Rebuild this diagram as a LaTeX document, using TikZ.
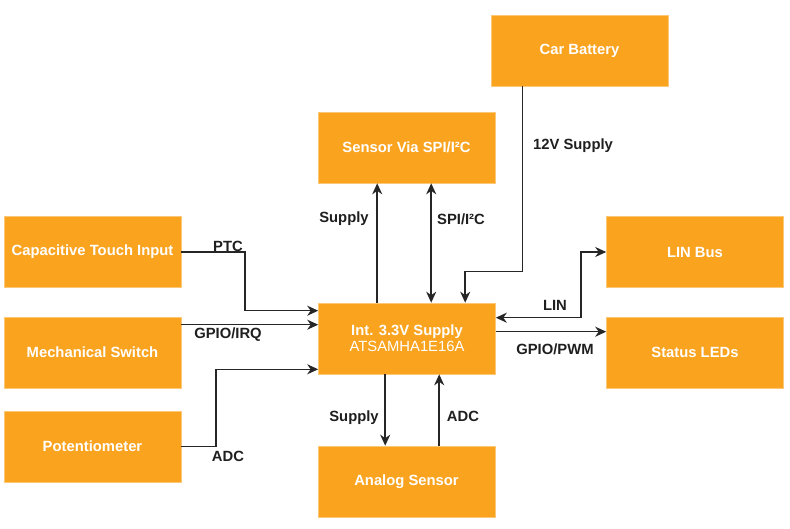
\documentclass[tikz,border=0pt]{standalone}
\usepackage{fontspec}
\setmainfont{Liberation Sans}
\usetikzlibrary{arrows.meta,calc}
\definecolor{boxfill}{HTML}{F9A31F}
\definecolor{boxline}{HTML}{FCC877}
\definecolor{wire}{HTML}{262626}
\definecolor{lbl}{HTML}{1F1F1F}
\begin{document}
\begin{tikzpicture}[x=1pt,y=-1pt,
  blk/.style={rectangle,draw=boxline,line width=0.6pt,fill=boxfill,text=white,
    minimum width=177pt,minimum height=71pt,inner sep=0pt,align=center,
    font=\fontsize{14.8}{17}\selectfont\bfseries},
  arr/.style={draw=wire,line width=1.5pt,-{Stealth[length=11pt,width=10pt,inset=3.5pt]}},
  arrtwo/.style={draw=wire,line width=1.5pt,{Stealth[length=11pt,width=10pt,inset=3.5pt]}-{Stealth[length=11pt,width=10pt,inset=3.5pt]}},
  lab/.style={text=lbl,inner sep=0pt,font=\fontsize{14.8}{17}\selectfont\bfseries}]
\useasboundingbox (0,0) rectangle (790,529);
\fill[white] (0,0) rectangle (790,529);
% boxes
\node[blk] (bat)  at (579.5,50.5) {Car Battery};
\node[blk] (sens) at (406.5,147.5) {Sensor Via SPI/I²C};
\node[blk] (cap)  at (92.5,252) {Capacitive Touch Input};
\node[blk] (mech) at (92.5,352.5) {Mechanical Switch};
\node[blk] (pot)  at (92.5,446.5) {Potentiometer};
\node[blk] (main) at (407,338.5) {Int. 3.3V Supply\\[-1pt]{\mdseries ATSAMHA1E16A}};
\node[blk] (ana)  at (406.5,481.5) {Analog Sensor};
\node[blk] (lin)  at (695,252) {LIN Bus};
\node[blk] (led)  at (695,352.5) {Status LEDs};
% connectors
\draw[arr] (cap.east) -| ($(main.north west)+(-73,8)$) -- ($(main.north west)+(0,8)$);
\draw[arr] ($(mech.north east)+(0,8)$) -- ($(main.north west)+(0,22)$);
\draw[arr] (pot.east) -| ($(main.south west)+(-102,-5)$) -- ($(main.south west)+(0,-5)$);
\coordinate (s1) at ($(main.north west)+(59,0)$);
\draw[arr] (s1) -- (s1 |- sens.south);
\coordinate (s2) at ($(main.north west)+(113,0)$);
\draw[arrtwo] (s2) -- (s2 |- sens.south);
\draw[arr] ($(bat.south west)+(32,0)$) |- ($(main.north west)+(147,-31)$) -- ($(main.north west)+(147,0)$);
\draw[arrtwo] ($(main.north east)+(0,15)$) -| ($(lin.west)+(-25,0)$) -- (lin.west);
\draw[arr] ($(main.north east)+(0,29)$) -- ($(led.north west)+(0,15)$);
\coordinate (s3) at ($(main.south west)+(67,0)$);
\draw[arr] (s3) -- (s3 |- ana.north);
\coordinate (s4) at ($(main.south west)+(121,0)$);
\draw[arr] (s4 |- ana.north) -- (s4);
% labels
\node[lab] (l1) at (228,246) {PTC};
\node[lab] (l2) at (228,335) {GPIO/IRQ};
\node[lab] (l3) at (228,456) {ADC};
\node[lab] (l4) at (344,219) {Supply};
\node[lab] (l5) at (461,219) {SPI/I²C};
\node[lab] (l6) at (573,146) {12V Supply};
\node[lab] (l7) at (555,305) {LIN};
\node[lab] (l8) at (555,349) {GPIO/PWM};
\node[lab] (l9) at (354,418) {Supply};
\node[lab] (l10) at (463,416) {ADC};
\end{tikzpicture}
\end{document}
